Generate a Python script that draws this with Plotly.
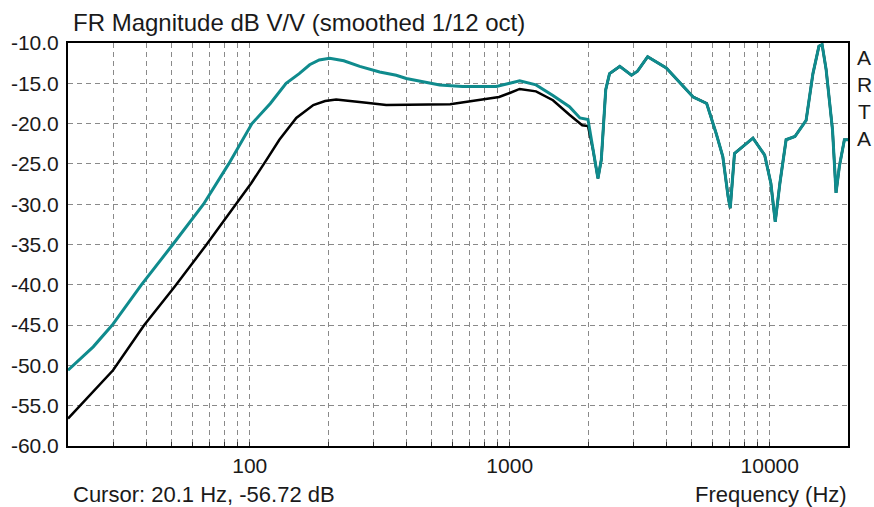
import plotly.graph_objects as go

# ---- data ----
teal_f = [20, 25, 29.6, 38.3, 50.6, 66.4, 83, 102, 120, 138, 155, 170, 185, 203, 230, 265,
          316, 366, 400, 538, 658, 888, 1000, 1092, 1262, 1466, 1697, 1862, 2000,
          2092, 2184, 2250, 2280, 2340, 2420, 2650, 2940, 3100, 3392, 4000, 5076,
          5720, 6220, 6600, 6920, 7050, 7320, 7580, 8620, 9560, 10100, 10500, 10940,
          11560, 12500, 13800, 14660, 15460, 15900, 16480, 17440, 17990, 18530,
          19370, 20000]
teal_db = [-50.6, -47.7, -45.0, -40.0, -35.0, -30.0, -25.0, -20.0, -17.5, -15.0, -13.8, -12.7,
           -12.1, -11.9, -12.2, -12.9, -13.6, -14.0, -14.4, -15.2, -15.4, -15.4, -15.0,
           -14.7, -15.2, -16.5, -17.9, -19.3, -19.5, -23.3, -26.8, -24.5, -21.6, -15.8,
           -13.8, -12.9, -14.0, -13.5, -11.7, -13.1, -16.7, -17.5, -21.2, -24.1, -29.1,
           -30.5, -23.7, -23.3, -21.8, -23.9, -27.4, -32.2, -27.4, -22.0, -21.6, -19.6,
           -13.8, -10.4, -10.2, -13.3, -20.8, -28.6, -25.3, -22.0, -22.0]

black_f = [20, 29.8, 39.3, 51.5, 67.9, 91, 101.3, 116, 130, 151, 175.6, 195, 215, 281,
           335, 590, 763, 910, 1000, 1092, 1262, 1466, 1697, 1900, 2000]
black_db = [-56.6, -50.6, -45.0, -40.2, -35.1, -29.5, -27.4, -24.5, -22.0, -19.3, -17.7,
            -17.2, -17.0, -17.4, -17.7, -17.6, -17.1, -16.7, -16.2, -15.7, -16.0, -17.1,
            -18.9, -20.2, -20.3]

y_ticks = [-60, -55, -50, -45, -40, -35, -30, -25, -20, -15, -10]
x_grid = [30, 40, 50, 60, 70, 80, 90, 100, 200, 300, 400, 500, 600, 700, 800, 900,
          1000, 2000, 3000, 4000, 5000, 6000, 7000, 8000, 9000, 10000]
x_labels = {100: "100", 1000: "1000", 10000: "10000"}

# above ~2 kHz the black curve coincides with the teal one
tail_f = [f for f in teal_f if f > 2000]
tail_db = [d for f, d in zip(teal_f, teal_db) if f > 2000]

FONT = "Liberation Sans, Arial, sans-serif"

fig = go.Figure()
fig.add_trace(go.Scatter(x=black_f + tail_f, y=black_db + tail_db, mode="lines",
                         line=dict(color="#000000", width=2.5), showlegend=False))
fig.add_trace(go.Scatter(x=teal_f, y=teal_db, mode="lines",
                         line=dict(color="#0f8b8d", width=3), showlegend=False))

fig.update_layout(
    width=874, height=507,
    margin=dict(l=68, r=26, t=43, b=61),
    paper_bgcolor="white", plot_bgcolor="white",
    font=dict(family=FONT, size=21, color="#1a1a1a"),
    xaxis=dict(type="log", range=[1.30103, 4.30103],
               tickmode="array", tickvals=x_grid,
               ticktext=[x_labels.get(v, "") for v in x_grid],
               showgrid=True, gridcolor="#8a8a8a", gridwidth=1, griddash="5px,4px",
               showline=True, linecolor="#000000", linewidth=2, mirror=True,
               ticks="inside", ticklen=4, tickcolor="#333333",
               zeroline=False, tickfont=dict(size=21)),
    yaxis=dict(range=[-60, -10], tickmode="array", tickvals=y_ticks,
               ticktext=["%.1f" % v for v in y_ticks],
               showgrid=True, gridcolor="#8a8a8a", gridwidth=1, griddash="5px,4px",
               showline=True, linecolor="#000000", linewidth=2, mirror=True,
               ticks="", zeroline=False, tickfont=dict(size=21),
               ticklabelstandoff=3),
)

def px_x(px):
    return (px - 68) / 780.0

def px_y(py):
    return (446 - py) / 403.0

fig.add_annotation(text="FR Magnitude dB V/V (smoothed 1/12 oct)", xref="paper", yref="paper",
                   x=px_x(71), y=px_y(23), xanchor="left", yanchor="middle",
                   showarrow=False, font=dict(size=24))
fig.add_annotation(text="Cursor: 20.1 Hz, -56.72 dB", xref="paper", yref="paper",
                   x=px_x(71), y=px_y(494), xanchor="left", yanchor="middle",
                   showarrow=False, font=dict(size=22))
fig.add_annotation(text="Frequency (Hz)", xref="paper", yref="paper",
                   x=px_x(849), y=px_y(494), xanchor="right", yanchor="middle",
                   showarrow=False, font=dict(size=22))
for i, ch in enumerate("ARTA"):
    fig.add_annotation(text=ch, xref="paper", yref="paper",
                       x=px_x(864), y=px_y(57.5 + 27 * i), xanchor="center", yanchor="middle",
                       showarrow=False, font=dict(size=21))

fig.write_html("out.html", config={"displayModeBar": False},
               post_script="document.body.style.margin='0';document.body.style.overflow='hidden';")
